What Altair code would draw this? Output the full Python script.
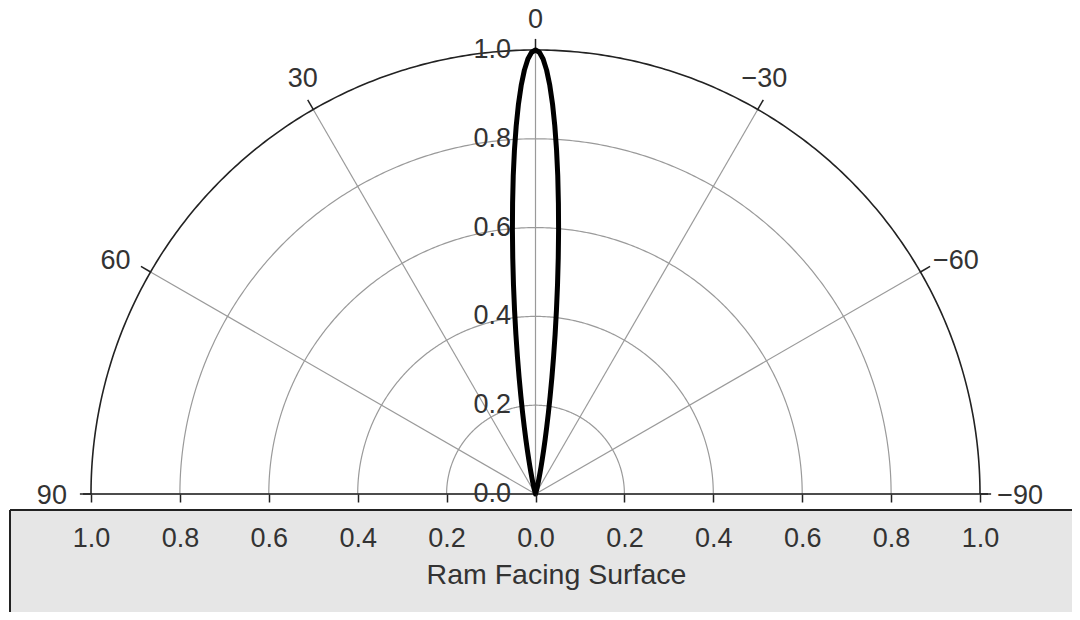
import altair as alt
import pandas as pd
import numpy as np

# ---------------- data ----------------
# lobe: polar angle (deg, measured from vertical) and radius, one half (symmetric)
lobe_angle = [0, 0.5, 1, 1.5, 2, 2.5, 3, 3.5, 4, 4.5, 5, 5.5, 6, 6.5, 7, 7.5, 8,
              8.5, 9, 9.5, 10, 10.5, 11, 11.5, 12, 12.5, 13, 13.5, 14, 14.5, 15, 16]
lobe_r = [1.0, 0.995, 0.980, 0.955, 0.921, 0.879, 0.830, 0.776, 0.718, 0.657, 0.596,
          0.534, 0.474, 0.416, 0.362, 0.311, 0.265, 0.223, 0.186, 0.153, 0.125, 0.101,
          0.080, 0.063, 0.050, 0.038, 0.029, 0.022, 0.017, 0.012, 0.009, 0.0]
grid_r = [0.2, 0.4, 0.6, 0.8]
outer_r = [1.0]
spoke_angles = [90, 60, 30, 0, -30, -60, -90]
spoke_labels = ["90", "60", "30", "0", "\u221230", "\u221260", "\u221290"]
radial_values = [0.0, 0.2, 0.4, 0.6, 0.8, 1.0]
radial_labels = ["0.0", "0.2", "0.4", "0.6", "0.8", "1.0"]
x_ticks = [-1.0, -0.8, -0.6, -0.4, -0.2, 0.0, 0.2, 0.4, 0.6, 0.8, 1.0]
x_title = "Ram Facing Surface"

# ---------------- style / layout ----------------
FONT = "Liberation Sans"
TXT = "#333333"
DARK = "#222222"
GRID = "#9a9a9a"
FS = 27
W, H = 889, 444
LABEL_R = 1.07
# pixel nudges of the angle labels (dx, dy), in the same order as spoke_angles
LABEL_NUDGE = [(-8, 1.5), (-8, 4.5), (5, -3.5), (0, 1.5), (-9, -3.5), (8.5, 4.5), (9, 1.5)]

# ---------------- tables ----------------
def circle_table(radii):
    rows = []
    phis = np.arange(0, 180.5, 0.5)
    for r in radii:
        for i, p in enumerate(phis):
            rows.append({"r": r, "i": i,
                         "x": r * np.cos(np.radians(p)), "y": r * np.sin(np.radians(p))})
    return pd.DataFrame(rows)

grid_df = circle_table(grid_r)
outer_df = circle_table(outer_r)

sinv = [np.sin(np.radians(a)) for a in spoke_angles]
cosv = [np.cos(np.radians(a)) for a in spoke_angles]
spoke_df = pd.DataFrame({
    "x0": [0.0] * len(spoke_angles), "y0": [0.0] * len(spoke_angles),
    "x1": [-s for s in sinv], "y1": cosv,
})
tick_df = pd.DataFrame({
    "x0": [-s for s in sinv], "y0": cosv,
    "x1": [-1.025 * s for s in sinv], "y1": [1.025 * c for c in cosv],
})
alabel_df = pd.DataFrame({
    "t": spoke_labels,
    "x": [-LABEL_R * s + n[0] / (W / 2) for s, n in zip(sinv, LABEL_NUDGE)],
    "y": [LABEL_R * c - n[1] / H for c, n in zip(cosv, LABEL_NUDGE)],
})
rlabel_df = pd.DataFrame({"t": radial_labels, "y": radial_values})

full_a = [-a for a in reversed(lobe_angle)] + lobe_angle[1:]
full_r = list(reversed(lobe_r)) + lobe_r[1:]
lobe_df = pd.DataFrame({
    "o": list(range(len(full_a))),
    "x": [-r * np.sin(np.radians(a)) for a, r in zip(full_a, full_r)],
    "y": [r * np.cos(np.radians(a)) for a, r in zip(full_a, full_r)],
})
base_df = pd.DataFrame({"x0": [-1.018], "x1": [1.018], "y0": [0.0]})
one = pd.DataFrame({"k": [0]})

# ---------------- scales / axes ----------------
xs = alt.Scale(domain=[-1, 1], nice=False, zero=False)
ys = alt.Scale(domain=[0, 1], nice=False, zero=False)
xa = alt.Axis(values=x_ticks, labelExpr="format(abs(datum.value), '.1f')",
              domain=False, grid=False, ticks=True, tickSize=8, tickWidth=1.5,
              tickColor=DARK, labelFontSize=FS, labelFont=FONT, labelColor=TXT,
              labelPadding=23, labelFlush=False, labelOverlap=False,
              title=x_title, titleFontSize=28.5, titleFont=FONT, titleFontWeight="normal",
              titleColor=TXT, titleX=465, titleY=89, titleAlign="center",
              titleBaseline="alphabetic", zindex=1)

def X(f):
    return alt.X(f, type="quantitative", scale=xs, axis=xa)

def Y(f):
    return alt.Y(f, type="quantitative", scale=ys, axis=None)

# ---------------- layers ----------------
box = alt.Chart(one).mark_rect(color="#e6e6e6").encode(
    x=alt.value(-81), x2=alt.value(1000), y=alt.value(460), y2=alt.value(580))
box_top = alt.Chart(one).mark_rule(color=DARK, strokeWidth=2).encode(
    x=alt.value(-81), x2=alt.value(1000), y=alt.value(460))
box_left = alt.Chart(one).mark_rule(color=DARK, strokeWidth=2).encode(
    x=alt.value(-81), y=alt.value(460), y2=alt.value(580))

grid = alt.Chart(grid_df).mark_line(color=GRID, strokeWidth=1.2).encode(
    x=X("x"), y=Y("y"), detail="r:N", order="i:Q")
spokes = alt.Chart(spoke_df).mark_rule(color=GRID, strokeWidth=1.2).encode(
    x=X("x0"), y=Y("y0"), x2="x1", y2="y1")
outer = alt.Chart(outer_df).mark_line(color=DARK, strokeWidth=1.6).encode(
    x=X("x"), y=Y("y"), detail="r:N", order="i:Q")
oticks = alt.Chart(tick_df).mark_rule(color=DARK, strokeWidth=1.5).encode(
    x=X("x0"), y=Y("y0"), x2="x1", y2="y1")
base = alt.Chart(base_df).mark_rule(color=DARK, strokeWidth=1.6).encode(
    x=X("x0"), x2="x1", y=Y("y0"))
rlabels = alt.Chart(rlabel_df).mark_text(
    align="right", baseline="middle", font=FONT, fontSize=FS, color=TXT).encode(
    x=alt.value(420), y=Y("y"), text="t:N")
alabels = alt.Chart(alabel_df).mark_text(
    align="center", baseline="middle", font=FONT, fontSize=FS, color=TXT).encode(
    x=X("x"), y=Y("y"), text="t:N")
lobe = alt.Chart(lobe_df).mark_line(color="black", strokeWidth=5,
                                    strokeJoin="round", strokeCap="round").encode(
    x=X("x"), y=Y("y"), order="o:Q")

chart = alt.layer(box, box_top, box_left, grid, spokes, outer, oticks, base,
                  rlabels, alabels, lobe).properties(
    width=W, height=H,
    autosize=alt.AutoSizeParams(type="none"),
    padding={"left": 83, "top": 42, "right": 92, "bottom": 118},
).configure_view(stroke=None)

chart.save("out.html", embed_options={"renderer": "svg", "actions": False})
